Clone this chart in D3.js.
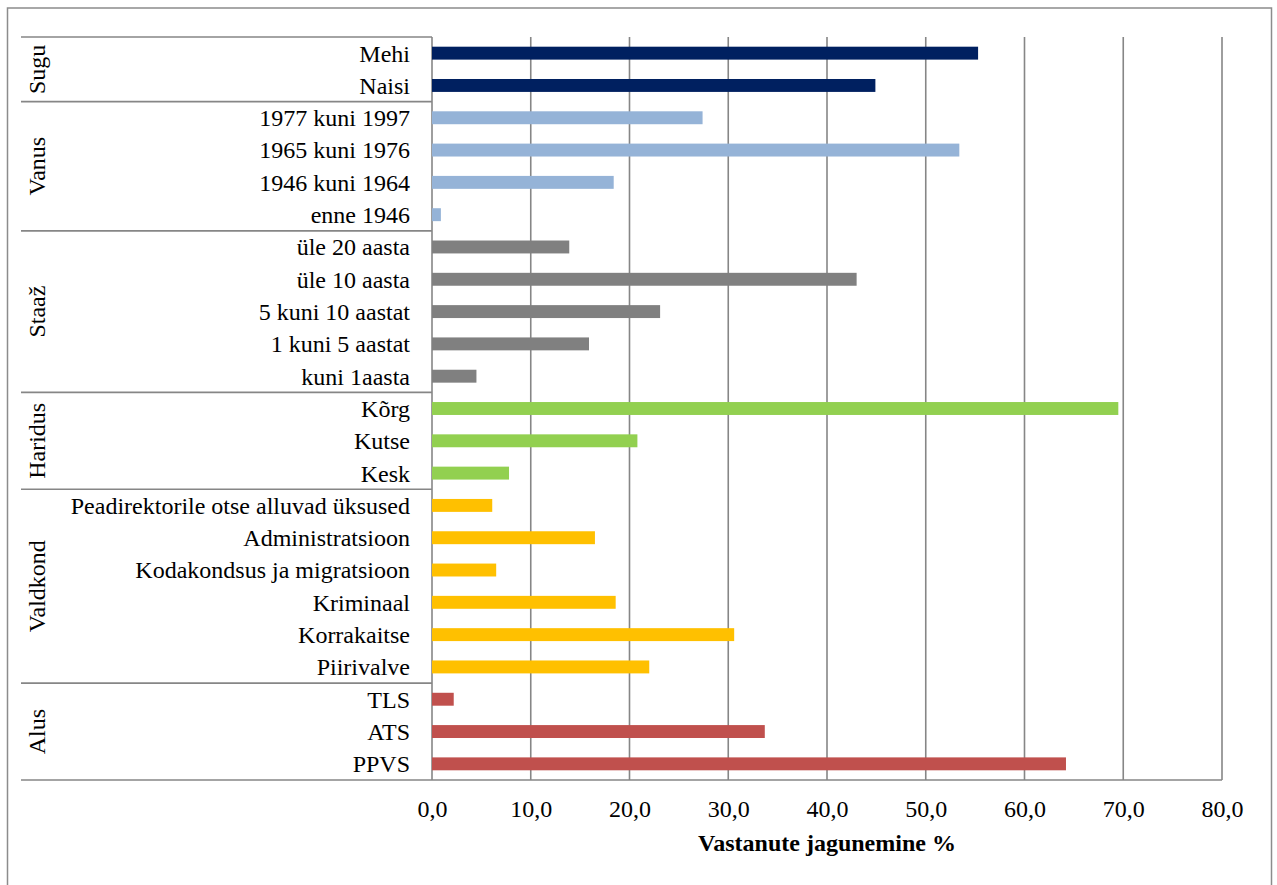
<!DOCTYPE html>
<html>
<head>
<meta charset="utf-8">
<script src="https://cdn.jsdelivr.net/npm/d3@7"></script>
</head>
<body style="margin:0; background:#fff">
<div id="chart"></div>
<script>
// groups of the multi-level category axis, in order from top
const groupNames = ['Sugu', 'Vanus', 'Staaž', 'Haridus', 'Valdkond', 'Alus'];
const groupSizes = [2, 4, 5, 3, 6, 3];
const groupColors = ['#002060', '#95b3d7', '#808080', '#92d050', '#ffc000', '#c0504d'];

const categories = [
	'Mehi', 'Naisi',
	'1977 kuni 1997', '1965 kuni 1976', '1946 kuni 1964', 'enne 1946',
	'üle 20 aasta', 'üle 10 aasta', '5 kuni 10 aastat', '1 kuni 5 aastat', 'kuni 1aasta',
	'Kõrg', 'Kutse', 'Kesk',
	'Peadirektorile otse alluvad üksused', 'Administratsioon', 'Kodakondsus ja migratsioon',
	'Kriminaal', 'Korrakaitse', 'Piirivalve',
	'TLS', 'ATS', 'PPVS',
];
const values = [
	55.3, 44.9,
	27.4, 53.4, 18.4, 0.9,
	13.9, 43.0, 23.1, 15.9, 4.5,
	69.5, 20.8, 7.8,
	6.1, 16.5, 6.5, 18.6, 30.6, 22.0,
	2.2, 33.7, 64.2,
];
const xTicks = [0, 10, 20, 30, 40, 50, 60, 70, 80];
const axisTitle = 'Vastanute jagunemine %';

const width = 1277;
const height = 885;
const plot = { left: 432, right: 1222, top: 37, bottom: 780 };
const labelLeft = 21;
const gridColor = '#868686';
const font = '"Liberation Serif", "Times New Roman", Times, serif';
const fontSize = '24px';

// which group each category belongs to
const groupIndex = [];
groupSizes.forEach((n, g) => { for (let i = 0; i < n; i++) groupIndex.push(g); });

const svg = d3.select('#chart').append('svg')
	.attr('width', width)
	.attr('height', height)
	.style('display', 'block');

// outer chart border
svg.append('rect')
	.attr('x', 7.5).attr('y', 8)
	.attr('width', 1264).attr('height', 900)
	.attr('fill', 'none')
	.attr('stroke', '#8c8c8c')
	.attr('stroke-width', 1.5);

const x = d3.scaleLinear()
	.domain([0, 80])
	.range([plot.left, plot.right]);

const y = d3.scaleBand()
	.domain(categories)
	.range([plot.top, plot.bottom])
	.paddingInner(0.6)
	.paddingOuter(0.3);

// vertical gridlines
svg.append('g')
	.selectAll('line')
	.data(xTicks)
	.enter()
	.append('line')
	.attr('x1', d => x(d)).attr('x2', d => x(d))
	.attr('y1', plot.top).attr('y2', plot.bottom)
	.attr('stroke', gridColor)
	.attr('stroke-width', 1.6);

// bars
svg.append('g')
	.selectAll('rect')
	.data(categories)
	.enter()
	.append('rect')
	.attr('x', x(0))
	.attr('y', d => y(d))
	.attr('width', (d, i) => x(values[i]) - x(0))
	.attr('height', y.bandwidth())
	.attr('fill', (d, i) => groupColors[groupIndex[i]]);

// category labels
svg.append('g')
	.selectAll('text')
	.data(categories)
	.enter()
	.append('text')
	.attr('x', plot.left - 22)
	.attr('y', d => y(d) + y.bandwidth() / 2)
	.attr('dy', '0.35em')
	.attr('text-anchor', 'end')
	.style('font-family', font)
	.style('font-size', fontSize)
	.attr('fill', '#000')
	.text(d => d);

// group separators and rotated group names
const step = y.step();
let start = 0;
const groupBounds = groupSizes.map(n => {
	const b = { y0: plot.top + start * step, y1: plot.top + (start + n) * step };
	start += n;
	return b;
});

const sepY = [plot.top].concat(groupBounds.map(b => b.y1));
svg.append('g')
	.selectAll('line')
	.data(sepY)
	.enter()
	.append('line')
	.attr('x1', labelLeft)
	.attr('x2', (d, i) => i === sepY.length - 1 ? plot.right : plot.left)
	.attr('y1', d => d).attr('y2', d => d)
	.attr('stroke', gridColor)
	.attr('stroke-width', 1.6);

svg.append('g')
	.selectAll('text')
	.data(groupNames)
	.enter()
	.append('text')
	.attr('transform', (d, i) => `translate(37, ${(groupBounds[i].y0 + groupBounds[i].y1) / 2}) rotate(-90)`)
	.attr('dy', '0.35em')
	.attr('text-anchor', 'middle')
	.style('font-family', font)
	.style('font-size', fontSize)
	.text(d => d);

// value axis
const locale = d3.formatLocale({ decimal: ',', thousands: ' ', grouping: [3], currency: ['', ''] });
const xAxis = d3.axisBottom(x)
	.tickValues(xTicks)
	.tickSize(0)
	.tickFormat(locale.format('.1f'));

const axisG = svg.append('g')
	.attr('transform', `translate(0, ${plot.bottom})`)
	.call(xAxis);
axisG.select('.domain').remove();
axisG.selectAll('text')
	.attr('y', 37)
	.attr('dy', 0)
	.style('font-family', font)
	.style('font-size', fontSize)
	.attr('fill', '#000');

svg.append('text')
	.attr('x', (plot.left + plot.right) / 2)
	.attr('y', 851)
	.attr('text-anchor', 'middle')
	.style('font-family', font)
	.style('font-size', fontSize)
	.style('font-weight', 'bold')
	.text(axisTitle);
</script>
</body>
</html>
